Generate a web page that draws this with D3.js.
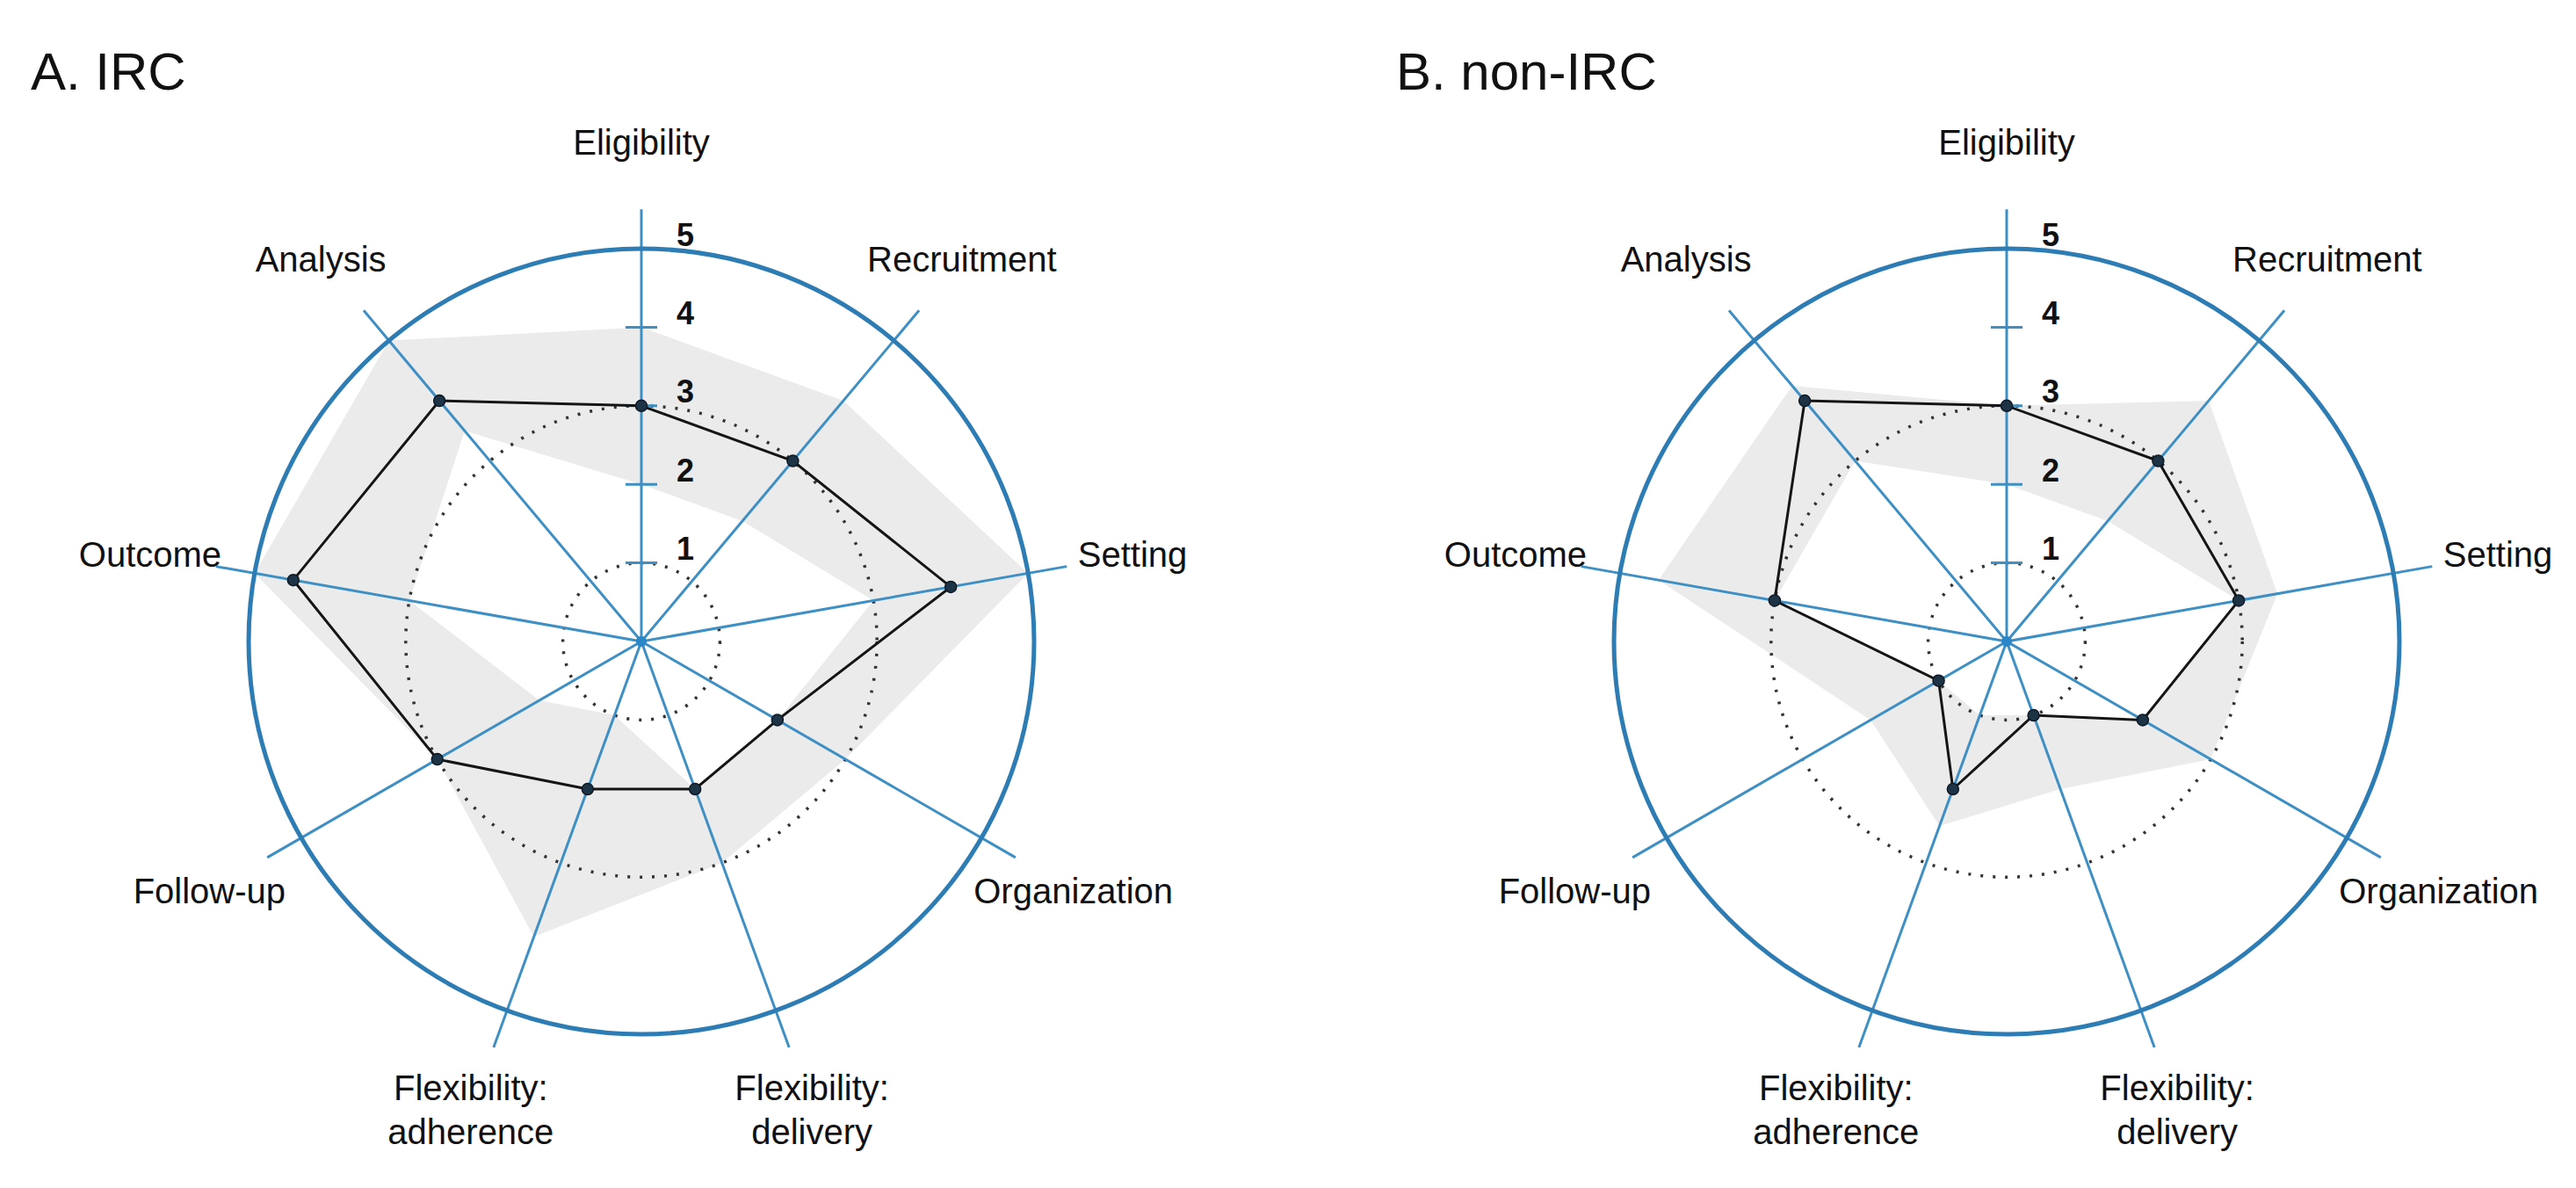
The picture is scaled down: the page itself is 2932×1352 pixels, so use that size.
<!DOCTYPE html>
<html>
<head>
<meta charset="utf-8">
<script src="https://cdn.jsdelivr.net/npm/d3@7"></script>
<style>
  html, body { margin: 0; padding: 0; background: #fff; }
  svg { display: block; }
</style>
</head>
<body>
<div id="chart"></div>
<script>
  // Domains of the wheel, clockwise from the top
  const axes = ["Eligibility", "Recruitment", "Setting", "Organization",
    "Flexibility:\ndelivery", "Flexibility:\nadherence", "Follow-up", "Outcome", "Analysis"];
  const scaleTicks = [1, 2, 3, 4, 5];

  // A. IRC: median score and interquartile range per domain
  const ircMedian = [3, 3, 4, 2, 2, 2, 3, 4.5, 4];
  const ircQ1     = [2, 2, 3, 2, 2, 1, 1.5, 3, 3.5];
  const ircQ3     = [4, 4, 5, 3, 3, 4, 3, 5, 5];

  // B. non-IRC
  const nonMedian = [3, 3, 3, 2, 1, 2, 1, 3, 4];
  const nonQ1     = [2, 2, 3, 2, 1, 1, 1, 3, 3];
  const nonQ3     = [3, 4, 3.5, 3, 2, 2.5, 2, 4.5, 4.25];

  const panels = [
    {title: "A. IRC", median: ircMedian, q1: ircQ1, q3: ircQ3},
    {title: "B. non-IRC", median: nonMedian, q1: nonQ1, q3: nonQ3}
  ];

  const width = 2932, height = 1352;
  const R = 447;               // radius of score 5
  const cy = 730;
  const centers = [730, 2284];
  const font = "'Liberation Sans', Arial, Helvetica, sans-serif";

  const r = d3.scaleLinear().domain([0, 5]).range([0, R]);
  const angle = d3.scalePoint().domain(d3.range(axes.length)).range([0, 2 * Math.PI * (axes.length - 1) / axes.length]);

  const axisBlue = "#3e8fc4", ringBlue = "#2d7db4";

  const svg = d3.select("#chart").append("svg")
      .attr("width", width)
      .attr("height", height)
      .attr("font-family", font);

  const radial = d3.lineRadial()
      .angle((d, i) => angle(i))
      .radius(d => r(d))
      .curve(d3.curveLinearClosed);

  const px = (i, v) => r(v) * Math.sin(angle(i));
  const py = (i, v) => -r(v) * Math.cos(angle(i));

  panels.forEach((p, k) => {
    const cx = centers[k];

    svg.append("text")
        .attr("x", cx - R - 248)
        .attr("y", 102)
        .attr("font-size", 60)
        .attr("fill", "#111")
        .text(p.title);

    const g = svg.append("g").attr("transform", `translate(${cx},${cy})`);

    // interquartile band: outer polygon minus inner polygon
    g.append("path")
        .attr("d", radial(p.q3) + radial(p.q1))
        .attr("fill", "#ebebeb")
        .attr("fill-rule", "evenodd");

    // dotted reference rings at 1 and 3
    g.selectAll("circle.ref")
      .data([1, 3])
      .join("circle")
        .attr("class", "ref")
        .attr("r", d => r(d))
        .attr("fill", "none")
        .attr("stroke", "#333")
        .attr("stroke-width", 3.5)
        .attr("stroke-dasharray", "3 11");

    // spokes
    g.selectAll("line.spoke")
      .data(axes)
      .join("line")
        .attr("class", "spoke")
        .attr("x1", 0).attr("y1", 0)
        .attr("x2", (d, i) => px(i, 5.5))
        .attr("y2", (d, i) => py(i, 5.5))
        .attr("stroke", axisBlue)
        .attr("stroke-width", 3);

    // outer ring at 5
    g.append("circle")
        .attr("r", r(5))
        .attr("fill", "none")
        .attr("stroke", ringBlue)
        .attr("stroke-width", 5);

    // ticks and scale labels on the top spoke
    g.selectAll("line.tick")
      .data(scaleTicks.slice(0, 4))
      .join("line")
        .attr("class", "tick")
        .attr("x1", -18).attr("x2", 18)
        .attr("y1", d => -r(d)).attr("y2", d => -r(d))
        .attr("stroke", axisBlue)
        .attr("stroke-width", 3);

    g.selectAll("text.tick")
      .data(scaleTicks)
      .join("text")
        .attr("class", "tick")
        .attr("x", 50)
        .attr("y", d => -r(d) - 16)
        .attr("text-anchor", "middle")
        .attr("dominant-baseline", "central")
        .attr("font-size", 36)
        .attr("font-weight", "bold")
        .attr("fill", "#111")
        .text(d => d);

    g.append("circle").attr("r", 6).attr("fill", "#2a86c8");

    // median profile
    g.append("path")
        .attr("d", radial(p.median))
        .attr("fill", "none")
        .attr("stroke", "#151515")
        .attr("stroke-width", 3);

    g.selectAll("circle.pt")
      .data(p.median)
      .join("circle")
        .attr("class", "pt")
        .attr("cx", (d, i) => px(i, d))
        .attr("cy", (d, i) => py(i, d))
        .attr("r", 6.5)
        .attr("fill", "#1d3346")
        .attr("stroke", "#0d1a26")
        .attr("stroke-width", 1.5);

    // domain labels
    const lab = g.selectAll("text.lab")
      .data(axes)
      .join("text")
        .attr("class", "lab")
        .attr("text-anchor", "middle")
        .attr("font-size", 40)
        .attr("fill", "#111")
        .attr("transform", (d, i) => `translate(${px(i, 6.35)},${py(i, 6.35)})`);

    lab.selectAll("tspan")
      .data(d => d.split("\n").map((s, j, a) => ({s, j, n: a.length})))
      .join("tspan")
        .attr("x", 0)
        .attr("y", d => (d.j - (d.n - 1) / 2) * 50)
        .attr("dominant-baseline", "central")
        .text(d => d.s);
  });
</script>
</body>
</html>
